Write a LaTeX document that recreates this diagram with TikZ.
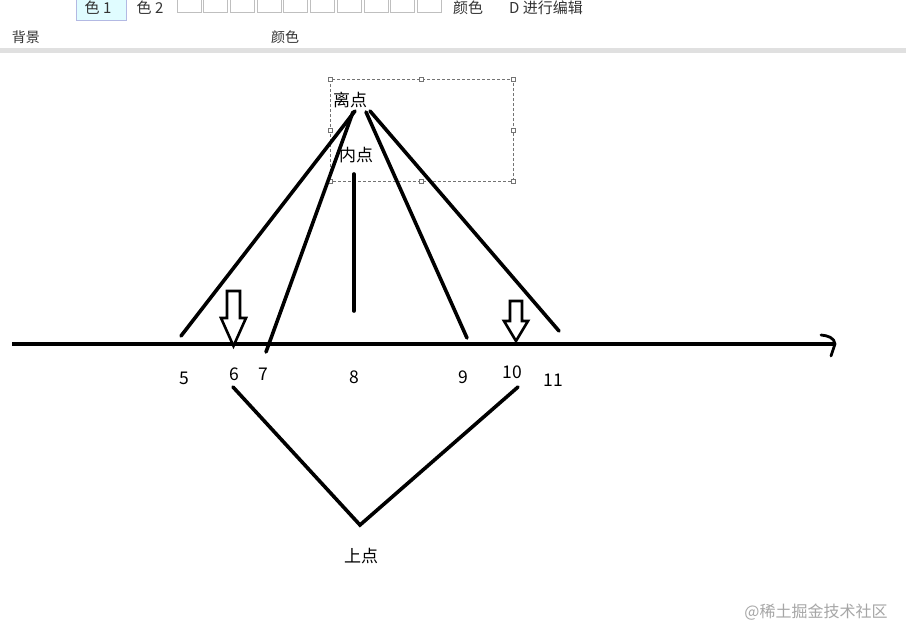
\documentclass[tikz,border=0pt]{standalone}
\usepackage{fontspec}
\setmainfont{Noto Sans CJK SC}
\begin{document}
\begin{tikzpicture}[x=1pt,y=-1pt,
  thick line/.style={line width=3.6pt,line cap=round},
  lbl/.style={inner sep=0pt,font=\fontsize{17}{19}\selectfont},
  num/.style={inner sep=0pt,font=\fontsize{17.5}{19}\selectfont},
  tool/.style={inner sep=0pt,font=\fontsize{15}{17}\selectfont,text=black!80},
  swatch/.style={draw=black!25,line width=0.8pt,fill=white},
  handle/.style={draw=black!55,fill=white,line width=0.5pt,minimum size=3.5pt,inner sep=0pt,rectangle},
  hollow/.style={draw=black,line width=2.6pt,fill=white,line join=miter}]
\useasboundingbox (0,0) rectangle (906,643);
\fill[white] (0,0) rectangle (906,643);
% toolbar
\draw[fill=blue!10!cyan!12,draw=cyan!30!blue!30] (76,-2) rectangle (126,20);
\node[tool] (c1) at (98,8) {色 1};
\node[tool] (c2) at (150,8) {色 2};
\foreach \i in {0,...,9}{
  \draw[swatch] ({177+26.7*\i},-2) rectangle ({201+26.7*\i},12);
}
\node[tool] (ys1) at (468,8) {颜色};
\node[tool] (edit) at (546,8) {D 进行编辑};
\node[tool,font=\fontsize{14}{16}\selectfont] (bg) at (26,37) {背景};
\node[tool,font=\fontsize{14}{16}\selectfont] (ys2) at (285,37) {颜色};
\fill[black!12] (0,48) rectangle (906,53);
% selection box
\draw[black!55,line width=0.7pt,dash pattern=on 3pt off 2pt] (330,79) rectangle (513,181);
\foreach \p in {(330,79),(421,79),(513,79),(330,130),(513,130),(330,181),(421,181),(513,181)}
  \node[handle] at \p {};
% labels
\node[lbl] (li) at (350,100) {离点};
\node[lbl] (nei) at (356,155) {内点};
\node[lbl] (shang) at (361,556) {上点};
% coordinates
\coordinate (a1) at (355,111);
\coordinate (a2) at (353,112);
\coordinate (a3) at (366,112);
\coordinate (a4) at (370,111);
\coordinate (e5) at (181,336);
\coordinate (e7) at (266,352);
\coordinate (e9) at (467,338);
\coordinate (e11) at (559,331);
\coordinate (v1) at (354,174);
\coordinate (v2) at (354,311);
\coordinate (axL) at (12,344);
\coordinate (axR) at (834,344);
\coordinate (b1) at (233,387);
\coordinate (b2) at (360,525);
\coordinate (b3) at (518,387);
% lines
\draw[thick line] (a1) -- (e5);
\draw[thick line] (a2) -- (e7);
\draw[thick line] (a3) -- (e9);
\draw[thick line] (a4) -- (e11);
\draw[thick line] (v1) -- (v2);
\draw[line width=3.8pt] (axL) -- (axR);
\draw[line width=2.8pt,line cap=round,line join=round] (821,335) to[out=-5,in=95] (835,344) -- (831,356);
\draw[thick line,line join=miter] (b1) -- (b2) -- (b3);
% hollow arrows
\draw[hollow] (227,291) -- (240,291) -- (240,318) -- (246,318) -- (233.5,346) -- (221,318) -- (227,318) -- cycle;
\draw[hollow] (510,301) -- (522,301) -- (522,321) -- (528,321) -- (516,341) -- (504,321) -- (510,321) -- cycle;
% numbers
\node[num] (n5) at (184,378) {5};
\node[num] (n6) at (234,374) {6};
\node[num] (n7) at (263,374) {7};
\node[num] (n8) at (354,377) {8};
\node[num] (n9) at (463,377) {9};
\node[num] (n10) at (512,372) {10};
\node[num] (n11) at (553,380) {11};
% watermark
\node[inner sep=0pt,font=\fontsize{16}{18}\selectfont,text=black!35] (wm) at (816,612) {@稀土掘金技术社区};
\end{tikzpicture}
\end{document}
